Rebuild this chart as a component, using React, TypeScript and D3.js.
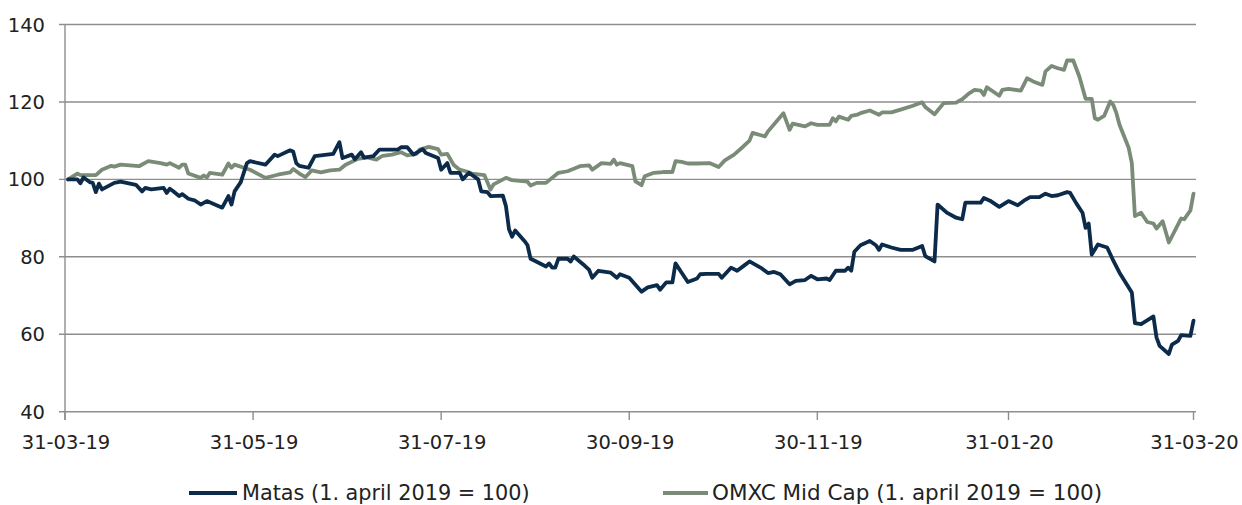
import React from "react";
import * as d3 from "d3";

const seriesNames = ["Matas (1. april 2019 = 100)", "OMXC Mid Cap (1. april 2019 = 100)"];
const seriesColors = ["#0c2a4a", "#7a8c78"];

const yTicks = [40, 60, 80, 100, 120, 140];
const xTickDates = ["2019-03-31", "2019-05-31", "2019-07-31", "2019-09-30", "2019-11-30", "2020-01-31", "2020-03-31"];
const xTickLabels = ["31-03-19", "31-05-19", "31-07-19", "30-09-19", "30-11-19", "31-01-20", "31-03-20"];

const matasDates = [
  "2019-04-01","2019-04-04","2019-04-05","2019-04-06","2019-04-08","2019-04-09","2019-04-10","2019-04-11","2019-04-12","2019-04-16",
  "2019-04-18","2019-04-23","2019-04-25","2019-04-26","2019-04-28","2019-05-02","2019-05-03","2019-05-04","2019-05-05","2019-05-07",
  "2019-05-08","2019-05-10","2019-05-12","2019-05-14","2019-05-16","2019-05-21","2019-05-23","2019-05-24","2019-05-25","2019-05-27",
  "2019-05-29","2019-05-30","2019-06-04","2019-06-07","2019-06-08","2019-06-12","2019-06-13","2019-06-14","2019-06-15","2019-06-18",
  "2019-06-20","2019-06-26","2019-06-28","2019-06-29","2019-07-02","2019-07-03","2019-07-05","2019-07-06","2019-07-09","2019-07-11",
  "2019-07-17","2019-07-18","2019-07-20","2019-07-22","2019-07-25","2019-07-26","2019-07-30","2019-07-31","2019-08-02","2019-08-03",
  "2019-08-06","2019-08-07","2019-08-09","2019-08-12","2019-08-13","2019-08-15","2019-08-16","2019-08-20","2019-08-21","2019-08-22",
  "2019-08-23","2019-08-24","2019-08-27","2019-08-28","2019-08-29","2019-08-30","2019-09-03","2019-09-04","2019-09-05","2019-09-06",
  "2019-09-07","2019-09-10","2019-09-11","2019-09-12","2019-09-15","2019-09-17","2019-09-18","2019-09-20","2019-09-24","2019-09-26",
  "2019-09-27","2019-09-30","2019-10-04","2019-10-06","2019-10-09","2019-10-10","2019-10-12","2019-10-14","2019-10-15","2019-10-17",
  "2019-10-19","2019-10-22","2019-10-23","2019-10-25","2019-10-29","2019-10-30","2019-11-02","2019-11-04","2019-11-06","2019-11-08",
  "2019-11-12","2019-11-14","2019-11-16","2019-11-18","2019-11-21","2019-11-23","2019-11-26","2019-11-28","2019-11-30","2019-12-03",
  "2019-12-04","2019-12-06","2019-12-09","2019-12-10","2019-12-11","2019-12-12","2019-12-14","2019-12-17","2019-12-19","2019-12-20",
  "2019-12-21","2019-12-24","2019-12-27","2019-12-31","2020-01-03","2020-01-04","2020-01-07","2020-01-08","2020-01-11","2020-01-14",
  "2020-01-16","2020-01-17","2020-01-22","2020-01-23","2020-01-25","2020-01-28","2020-01-31","2020-02-03","2020-02-05","2020-02-07",
  "2020-02-10","2020-02-12","2020-02-14","2020-02-16","2020-02-19","2020-02-20","2020-02-22","2020-02-24","2020-02-25","2020-02-26",
  "2020-02-27","2020-02-29","2020-03-03","2020-03-05","2020-03-07","2020-03-11","2020-03-12","2020-03-14","2020-03-17","2020-03-18",
  "2020-03-19","2020-03-20","2020-03-23","2020-03-24","2020-03-26","2020-03-27","2020-03-30","2020-03-31"
];
const matasValues = [
  100, 100, 99, 100.5, 99.3, 99.1, 96.7, 98.9, 97.4, 99.1,
  99.4, 98.6, 96.9, 97.8, 97.4, 97.8, 96.5, 97.6, 97, 95.7,
  96.2, 95, 94.6, 93.5, 94.4, 92.7, 95.7, 93.5, 96.9, 99.3,
  104.2, 104.7, 103.8, 106.4, 106, 107.5, 107.2, 104.2, 103.5, 103,
  106, 106.6, 109.6, 105.5, 106.4, 105.2, 107, 105.6, 106, 107.7,
  107.7, 108.3, 108.3, 106.4, 107.8, 106.8, 105.5, 102.5, 104.2, 101.7,
  101.7, 100, 101.7, 100, 96.9, 96.7, 95.7, 95.8, 93.1, 87.1,
  85.2, 86.8, 84.1, 83, 79.5, 79.1, 77.5, 78.3, 77.2, 77.2,
  79.5, 79.5, 78.8, 80.1, 78.1, 76.6, 74.6, 76.4, 75.9, 74.6,
  75.5, 74.6, 71, 72.1, 72.7, 71.5, 73.4, 73.4, 78.3, 75.9,
  73.5, 74.4, 75.5, 75.6, 75.6, 74.6, 77.2, 76.4, 77.6, 78.8,
  77, 75.8, 76.1, 75.5, 72.9, 73.8, 74, 75.1, 74.2, 74.4,
  74, 76.4, 76.4, 77.2, 76.4, 81.3, 83, 84.1, 83, 81.8,
  83.2, 82.4, 81.8, 81.8, 82.8, 80.2, 78.8, 93.5, 91.4, 90.1,
  89.7, 94, 94, 95.2, 94.5, 92.9, 94.4, 93.3, 94.5, 95.4,
  95.4, 96.3, 95.7, 95.9, 96.7, 96.5, 93.8, 91.4, 87.5, 88.6,
  80.6, 83.2, 82.4, 79, 75.9, 70.8, 62.9, 62.6, 64.1, 64.6,
  59.2, 57, 54.9, 57.3, 58.3, 59.8, 59.6, 63.5
];

const omxcDates = [
  "2019-04-01","2019-04-04","2019-04-05","2019-04-10","2019-04-12","2019-04-15","2019-04-16","2019-04-18","2019-04-24","2019-04-27",
  "2019-05-01","2019-05-03","2019-05-04","2019-05-07","2019-05-08","2019-05-09","2019-05-10","2019-05-14","2019-05-15","2019-05-16",
  "2019-05-17","2019-05-21","2019-05-23","2019-05-24","2019-05-25","2019-05-28","2019-05-30","2019-06-04","2019-06-08","2019-06-12",
  "2019-06-13","2019-06-15","2019-06-17","2019-06-19","2019-06-22","2019-06-25","2019-06-28","2019-06-30","2019-07-04","2019-07-07",
  "2019-07-10","2019-07-12","2019-07-15","2019-07-18","2019-07-20","2019-07-23","2019-07-24","2019-07-27","2019-07-30","2019-07-31",
  "2019-08-02","2019-08-04","2019-08-06","2019-08-08","2019-08-10","2019-08-14","2019-08-16","2019-08-17","2019-08-21","2019-08-23",
  "2019-08-28","2019-08-29","2019-08-31","2019-09-03","2019-09-07","2019-09-10","2019-09-14","2019-09-17","2019-09-18","2019-09-21",
  "2019-09-24","2019-09-25","2019-09-26","2019-09-27","2019-10-01","2019-10-02","2019-10-04","2019-10-05","2019-10-08","2019-10-11",
  "2019-10-14","2019-10-15","2019-10-17","2019-10-19","2019-10-22","2019-10-26","2019-10-29","2019-10-31","2019-11-03","2019-11-06",
  "2019-11-08","2019-11-09","2019-11-13","2019-11-14","2019-11-19","2019-11-21","2019-11-22","2019-11-26","2019-11-28","2019-11-30",
  "2019-12-04","2019-12-05","2019-12-06","2019-12-07","2019-12-10","2019-12-11","2019-12-13","2019-12-14","2019-12-17","2019-12-20",
  "2019-12-21","2019-12-24","2019-12-27","2019-12-31","2020-01-03","2020-01-04","2020-01-07","2020-01-08","2020-01-10","2020-01-14",
  "2020-01-16","2020-01-18","2020-01-20","2020-01-22","2020-01-23","2020-01-24","2020-01-28","2020-01-29","2020-01-31","2020-02-04",
  "2020-02-06","2020-02-08","2020-02-11","2020-02-12","2020-02-14","2020-02-16","2020-02-18","2020-02-19","2020-02-21","2020-02-23",
  "2020-02-25","2020-02-27","2020-02-28","2020-02-29","2020-03-02","2020-03-04","2020-03-05","2020-03-06","2020-03-07","2020-03-10",
  "2020-03-11","2020-03-12","2020-03-14","2020-03-16","2020-03-18","2020-03-19","2020-03-21","2020-03-23","2020-03-27","2020-03-28",
  "2020-03-30","2020-03-31"
];
const omxcValues = [
  100, 101.5, 101.1, 101.1, 102.5, 103.5, 103.3, 103.8, 103.4, 104.7,
  104.2, 103.8, 104.2, 103, 103.8, 103.8, 101.5, 100.4, 101, 100.5,
  101.7, 101.2, 104.1, 103, 103.8, 103, 102.5, 100.4, 101.2, 101.8,
  102.7, 101.5, 100.6, 102.3, 101.8, 102.3, 102.5, 103.8, 105.3, 105.7,
  105.1, 106.1, 106.4, 107, 106.2, 106.6, 107.7, 108.4, 107.8, 106.4,
  106.6, 103.8, 102.5, 102.1, 101.5, 101.1, 97.4, 98.7, 100.4, 99.8,
  99.4, 98.4, 99.1, 99.1, 101.7, 102.1, 103.4, 103.6, 102.5, 104.2,
  104, 105.1, 103.8, 104.2, 103.4, 99.5, 98.5, 100.8, 101.7, 101.9,
  101.9, 104.7, 104.5, 104.1, 104.1, 104.2, 103.2, 104.9, 106.4, 108.5,
  110, 112, 111.1, 112.4, 117.1, 112.8, 114.4, 113.7, 114.5, 114.1,
  114.1, 115.8, 115, 116.2, 115.4, 116.4, 116.7, 117.1, 117.8, 116.7,
  117.3, 117.3, 118, 119, 119.9, 118.7, 116.8, 117.8, 119.7, 119.8,
  120.7, 122.1, 123.1, 122.9, 121.8, 123.8, 121.6, 123.1, 123.4, 122.9,
  126.1, 125.3, 124.4, 127.9, 129.3, 128.7, 128.3, 130.7, 130.7, 126.5,
  120.8, 120.8, 115.8, 115.4, 116.4, 120.1, 119.2, 117.1, 114.1, 108.1,
  104.2, 90.5, 91.4, 89, 88.6, 87.3, 89.2, 83.7, 89.9, 89.7,
  92, 96.3
];

const FONT = "'DejaVu Sans', sans-serif";

export default function App() {
  const width = 1242;
  const height = 505;
  const parse = d3.timeParse("%Y-%m-%d");
  const x = d3
    .scaleTime()
    .domain([parse("2019-03-31")!, parse("2020-03-31")!])
    .range([65, 1193.5]);
  const y = d3.scaleLinear().domain([40, 140]).range([411.7, 24.5]);

  type Pt = { d: Date; v: number };
  const matas: Pt[] = matasDates.map((s, i) => ({ d: parse(s)!, v: matasValues[i] }));
  const omxc: Pt[] = omxcDates.map((s, i) => ({ d: parse(s)!, v: omxcValues[i] }));
  const line = d3
    .line<Pt>()
    .x((p) => x(p.d))
    .y((p) => y(p.v));

  const gridColor = "#8e8e8e";
  const textColor = "#222";

  return (
    <svg width={width} height={height} style={{ position: "absolute", left: 0, top: 0 }}>
      <rect width={width} height={height} fill="#fff" />
      {yTicks.map((t) => (
        <g key={t}>
          <line x1={59} x2={1196} y1={y(t)} y2={y(t)} stroke={gridColor} strokeWidth={1.4} />
          <text
            x={45}
            y={y(t)}
            dy="0.36em"
            textAnchor="end"
            fontFamily={FONT}
            fontSize={19.5}
            fill={textColor}
          >
            {t}
          </text>
        </g>
      ))}
      <line x1={65} x2={65} y1={y(140)} y2={420} stroke={gridColor} strokeWidth={1.4} />
      {xTickDates.map((s, i) => {
        const xp = x(parse(s)!);
        return (
          <g key={s}>
            <line x1={xp} x2={xp} y1={y(40)} y2={420} stroke={gridColor} strokeWidth={1.4} />
            <text
              x={xp + 1}
              y={449}
              textAnchor="middle"
              fontFamily={FONT}
              fontSize={19.5}
              fill={textColor}
            >
              {xTickLabels[i]}
            </text>
          </g>
        );
      })}
      <path d={line(omxc) || ""} fill="none" stroke={seriesColors[1]} strokeWidth={3.8} strokeLinejoin="round" strokeLinecap="round" />
      <path d={line(matas) || ""} fill="none" stroke={seriesColors[0]} strokeWidth={3.8} strokeLinejoin="round" strokeLinecap="round" />
      {/* legend */}
      <line x1={189} x2={237} y1={493} y2={493} stroke={seriesColors[0]} strokeWidth={3.8} />
      <text x={242} y={500} fontFamily={FONT} fontSize={20.8} fill={textColor}>
        {seriesNames[0]}
      </text>
      <line x1={663} x2={708} y1={493} y2={493} stroke={seriesColors[1]} strokeWidth={3.8} />
      <text x={712} y={500} fontFamily={FONT} fontSize={21.5} fill={textColor}>
        {seriesNames[1]}
      </text>
    </svg>
  );
}
